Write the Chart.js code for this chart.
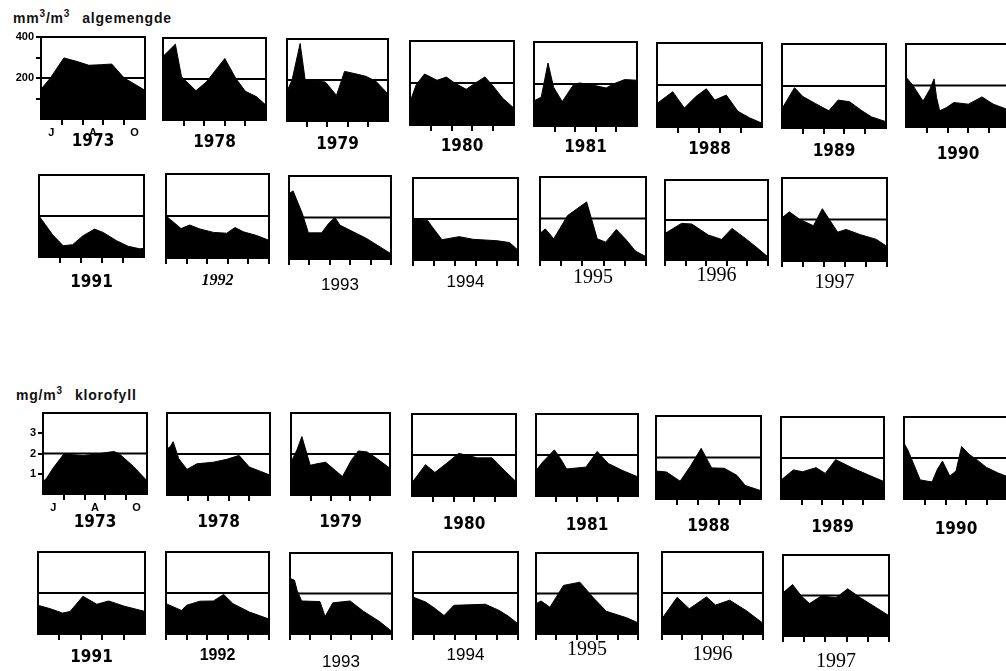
<!DOCTYPE html>
<html>
<head>
<meta charset="utf-8">
<script src="https://cdn.jsdelivr.net/npm/chart.js@4"></script>
<style>
body { margin: 0; background: #fff; width: 1006px; height: 671px; overflow: hidden; position: relative; }
canvas { position: absolute; }
.ttl { position: absolute; font: bold 14px 'Liberation Sans', Arial, sans-serif; letter-spacing: 0.8px; white-space: pre; color: #111; }
.ttl sup { font-size: 10px; }
.ttl span { margin-left: 12px; }
</style>
</head>
<body>
<div class="ttl" style="left:13px;top:8px">mm<sup>3</sup>/m<sup>3</sup><span>algemengde</span></div>
<div class="ttl" style="left:16px;top:385px">mg/m<sup>3</sup><span>klorofyll</span></div>
<script>
const years = ['1973', '1978', '1979', '1980', '1981', '1988', '1989', '1990',
               '1991', '1992', '1993', '1994', '1995', '1996', '1997'];
const monthLabels = ['J', 'A', 'O'];      // June, August, October
const algeRef = 200;
const algeMax = 400;
const algeTickLabels = [200, 400];
const klorRef = 2;
const klorMax = 4;
const klorTickLabels = [1, 2, 3];

// algemengde, mm3/m3 : [months after 1 June, value]
const alge1973 = [[0,145],[0.45,200],[1.1,298],[1.75,280],[2.3,262],[2.9,265],[3.4,268],[4.0,200],[5,140]];
const alge1978 = [[0,310],[0.6,370],[0.9,210],[1.6,143],[2.1,185],[3.0,300],[3.55,200],[4.0,140],[4.55,113],[5,72]];
const alge1979 = [[0,145],[0.25,200],[0.65,378],[0.9,200],[1.4,195],[1.9,190],[2.45,125],[2.85,242],[3.4,230],[3.9,218],[4.4,194],[5,132]];
const alge1980 = [[0,110],[0.3,192],[0.7,243],[1.3,213],[1.75,228],[2.15,200],[2.7,170],[3.15,200],[3.6,229],[4.0,185],[4.45,128],[5,80]];
const alge1981 = [[0,120],[0.35,137],[0.68,300],[0.95,185],[1.37,116],[1.9,194],[2.2,205],[2.9,194],[3.5,181],[3.9,202],[4.4,221],[5,218]];
const alge1988 = [[0,112],[0.75,168],[1.3,90],[1.85,145],[2.35,182],[2.75,128],[3.3,152],[3.85,75],[4.4,44],[5,18]];
const alge1989 = [[0,92],[0.6,192],[1.0,150],[1.6,117],[2.25,82],[2.7,133],[3.25,125],[3.8,85],[4.3,53],[5,30]];
const alge1990 = [[0,240],[0.3,205],[0.82,125],[1.15,182],[1.35,232],[1.47,142],[1.62,78],[1.95,94],[2.3,118],[3.0,110],[3.65,145],[4.2,110],[5,80]];
const alge1991 = [[0,200],[0.3,158],[0.65,108],[1.15,55],[1.6,60],[2.1,104],[2.65,136],[3.05,120],[3.7,79],[4.25,52],[4.8,40],[5,42]];
const alge1992 = [[0,200],[0.35,172],[0.73,140],[1.15,157],[1.65,138],[2.3,122],[2.95,118],[3.35,145],[3.75,125],[4.4,107],[5,84]];
const alge1993 = [[0,315],[0.2,328],[0.65,220],[0.95,126],[1.6,126],[1.95,172],[2.25,200],[2.5,163],[3.15,131],[3.8,99],[4.5,56],[5,25]];
const alge1994 = [[0,200],[0.7,192],[1.0,150],[1.38,99],[2.2,114],[2.85,101],[4.0,94],[4.6,85],[5,48]];
const alge1995 = [[0,128],[0.25,150],[0.65,102],[1.3,214],[2.2,280],[2.7,102],[3.1,86],[3.6,147],[4.05,99],[4.5,43],[5,16]];
const alge1996 = [[0,133],[0.8,183],[1.3,180],[2.1,125],[2.75,103],[3.25,158],[3.9,108],[4.45,63],[5,15]];
const alge1997 = [[0,208],[0.35,237],[0.85,200],[1.5,170],[1.92,252],[2.65,139],[3.05,152],[3.7,128],[4.5,104],[5,70]];

// klorofyll, mg/m3
const klor1973 = [[0,0.62],[0.15,0.75],[0.5,1.3],[1.0,1.97],[1.95,1.9],[2.75,2.0],[3.4,2.1],[3.65,2.0],[4.35,1.36],[5,0.65]];
const klor1978 = [[0,2.25],[0.15,2.35],[0.3,2.6],[0.57,1.77],[0.97,1.25],[1.45,1.52],[2.25,1.6],[2.9,1.74],[3.5,1.93],[4.0,1.36],[4.55,1.15],[5,0.97]];
const klor1979 = [[0,1.6],[0.3,2.2],[0.55,2.85],[0.97,1.45],[1.3,1.52],[1.75,1.6],[2.6,0.9],[3.05,1.7],[3.4,2.15],[3.85,2.1],[4.35,1.77],[5,1.3]];
const klor1980 = [[0,0.65],[0.65,1.53],[1.1,1.15],[1.65,1.58],[2.25,2.08],[3.15,1.86],[3.85,1.86],[4.45,1.24],[5,0.7]];
const klor1981 = [[0,1.24],[0.33,1.66],[0.9,2.25],[1.2,1.83],[1.5,1.32],[2.45,1.41],[3.0,2.17],[3.55,1.58],[4.25,1.24],[5,0.93]];
const klor1988 = [[0,1.35],[0.5,1.3],[1.15,0.86],[1.65,1.6],[2.15,2.44],[2.65,1.5],[3.25,1.48],[3.85,1.14],[4.25,0.65],[5,0.4]];
const klor1989 = [[0,0.92],[0.6,1.42],[1.05,1.33],[1.7,1.53],[2.15,1.25],[2.65,1.92],[3.5,1.5],[4.25,1.17],[5,0.85]];
const klor1990 = [[0,2.72],[0.18,2.4],[0.78,0.93],[1.35,0.83],[1.6,1.44],[1.85,1.85],[2.2,1.12],[2.5,1.36],[2.77,2.56],[3.15,2.16],[3.5,1.92],[3.95,1.55],[4.5,1.28],[5,1.08]];
const klor1991 = [[0,1.4],[0.55,1.24],[1.15,1.02],[1.5,1.1],[2.1,1.84],[2.75,1.45],[3.3,1.61],[4.05,1.35],[5,1.1]];
const klor1992 = [[0,1.48],[0.75,1.15],[1.0,1.4],[1.65,1.6],[2.3,1.61],[2.8,1.93],[3.25,1.48],[4.05,1.07],[5,0.73]];
const klor1993 = [[0,2.75],[0.22,2.65],[0.35,2.15],[0.57,1.63],[1.47,1.6],[1.72,0.86],[2.1,1.54],[2.95,1.63],[3.6,1.12],[4.4,0.61],[5,0.12]];
const klor1994 = [[0,1.8],[0.6,1.56],[1.0,1.28],[1.48,0.9],[1.95,1.4],[3.45,1.45],[4.1,1.15],[4.55,0.86],[5,0.5]];
const klor1995 = [[0,1.5],[0.25,1.63],[0.68,1.32],[1.35,2.4],[2.15,2.56],[2.8,1.8],[3.45,1.12],[4.45,0.8],[5,0.55]];
const klor1996 = [[0,0.75],[0.75,1.79],[1.35,1.23],[2.2,1.81],[2.65,1.41],[3.35,1.65],[4.2,1.12],[5,0.52]];
const klor1997 = [[0,2.13],[0.45,2.54],[0.87,1.97],[1.25,1.6],[1.8,1.97],[2.5,1.89],[3.05,2.33],[3.65,1.89],[4.4,1.4],[5,1.0]];

const algeSeries = [alge1973, alge1978, alge1979, alge1980, alge1981, alge1988, alge1989, alge1990,
                    alge1991, alge1992, alge1993, alge1994, alge1995, alge1996, alge1997];
const klorSeries = [klor1973, klor1978, klor1979, klor1980, klor1981, klor1988, klor1989, klor1990,
                    klor1991, klor1992, klor1993, klor1994, klor1995, klor1996, klor1997];

// layout: plot box left, top, width, height, year label offset below box, label font, end ticks
const algeBoxes = [
  [41, 37, 104, 82, 23, 'cond', false], [163, 38, 103, 82, 23, 'cond', false],
  [287, 39, 101, 82, 24, 'cond', false], [410, 41, 104, 84, 22, 'cond', false],
  [534, 42, 103, 84, 22, 'cond', false], [657, 43, 105, 84, 23, 'cond', false],
  [782, 44, 104, 84, 24, 'cond', false], [906, 44, 104, 83, 28, 'cond', false],
  [39, 175, 105, 82, 26, 'cond', false], [166, 174, 103, 84, 22, 'hand', true],
  [289, 176, 102, 83, 27, 'sans', true], [413, 178, 105, 82, 23, 'sans', true],
  [540, 177, 106, 83, 18, 'serif', true], [665, 180, 103, 80, 16, 'serif', true],
  [782, 178, 105, 83, 22, 'serif', true]
];
const klorBoxes = [
  [43, 413, 104, 81, 29, 'cond', false], [167, 413, 103, 82, 28, 'cond', false],
  [291, 413, 99, 82, 28, 'cond', false], [412, 414, 104, 82, 29, 'cond', false],
  [536, 414, 102, 82, 30, 'cond', false], [656, 416, 105, 83, 28, 'cond', false],
  [781, 417, 103, 82, 29, 'cond', false], [904, 417, 104, 82, 31, 'cond', false],
  [38, 552, 107, 82, 24, 'cond', false], [166, 552, 103, 82, 21, 'bold', true],
  [290, 553, 102, 81, 29, 'sans', true], [413, 552, 105, 82, 22, 'sans', true],
  [536, 553, 102, 81, 16, 'serif', true], [662, 552, 101, 82, 21, 'serif', true],
  [783, 555, 106, 81, 26, 'serif', true]
];

const fonts = {
  cond: {family: "'DejaVu Sans', sans-serif", weight: 'condensed bold', size: 17},
  hand: {family: "'Liberation Serif', serif", weight: 'bold', style: 'italic', size: 16},
  bold: {family: "'Liberation Sans', Arial, sans-serif", weight: 'bold', size: 16},
  sans: {family: "'Liberation Sans', Arial, sans-serif", weight: 'normal', size: 17},
  serif: {family: "'Liberation Serif', 'Times New Roman', serif", weight: 'normal', size: 20}
};
const smallFont = {family: "'Liberation Sans', Arial, sans-serif", weight: 'bold', size: 11};

const boxPlugin = {
  id: 'box',
  afterDraw(chart) {
    const {ctx, chartArea: a} = chart;
    ctx.save();
    ctx.strokeStyle = '#000';
    ctx.lineWidth = 2;
    ctx.strokeRect(a.left, a.top, a.right - a.left, a.bottom - a.top);
    ctx.restore();
  }
};

const monthTicks = [0, 0.5, 1, 1.5, 2, 2.5, 3, 3.5, 4, 4.5, 5];
const monthAt = {0.5: monthLabels[0], 2.5: monthLabels[1], 4.5: monthLabels[2]};

function noPad(s) {
  s.paddingTop = 0; s.paddingBottom = 0; s.paddingLeft = 0; s.paddingRight = 0;
}

function makePanel(points, box, i, ref, yMax, yLabels) {
  const [bx, by, bw, bh, dy, fk, ends] = box;
  const first = i === 0;
  const yw = first ? 36 : 0;
  const f = fonts[fk];
  const axisH = Math.round(dy + f.size * 0.6);
  const padL = 2, padR = 3;
  const padT = first ? 8 : 2;
  const step = yMax / 4;

  const cv = document.createElement('canvas');
  cv.width = bw + yw + padL + padR;
  cv.height = bh + padT + axisH;
  cv.style.left = (bx - yw - padL) + 'px';
  cv.style.top = (by - padT) + 'px';
  document.body.appendChild(cv);

  new Chart(cv, {
    type: 'line',
    data: {
      datasets: [
        {
          data: points.map(([x, y]) => ({x, y})),
          fill: 'origin',
          backgroundColor: '#000',
          borderColor: '#000',
          borderWidth: 1,
          pointRadius: 0,
          tension: 0
        },
        {
          data: [{x: 0, y: ref}, {x: 5, y: ref}],
          fill: false,
          borderColor: '#000',
          borderWidth: 2,
          pointRadius: 0
        }
      ]
    },
    options: {
      responsive: false,
      animation: false,
      devicePixelRatio: 1,
      events: [],
      layout: {padding: {left: padL, top: padT, right: padR, bottom: 0}},
      plugins: {legend: {display: false}, tooltip: {enabled: false}},
      scales: {
        x: {
          type: 'linear',
          min: 0,
          max: 5,
          afterBuildTicks: s => { s.ticks = monthTicks.map(v => ({value: v})); },
          afterFit: s => { s.height = axisH; noPad(s); },
          border: {display: false},
          grid: {
            drawOnChartArea: false,
            drawTicks: true,
            tickLength: 6,
            lineWidth: 2,
            color: c => {
              const v = c.tick ? c.tick.value : -1;
              if (v % 1 !== 0) return 'rgba(0,0,0,0)';
              if ((v === 0 || v === 5) && !ends) return 'rgba(0,0,0,0)';
              return '#000';
            }
          },
          ticks: {
            display: first,
            autoSkip: false,
            maxRotation: 0,
            minRotation: 0,
            padding: 1,
            color: '#000',
            font: smallFont,
            callback: v => monthAt[v] || ''
          },
          title: {
            display: true,
            text: years[i],
            color: '#000',
            font: f,
            padding: {top: 0, bottom: 0}
          }
        },
        y: {
          display: first,
          min: 0,
          max: yMax,
          afterBuildTicks: s => { s.ticks = [0, 1, 2, 3, 4].map(k => ({value: k * step})); },
          afterFit: s => { s.width = yw; noPad(s); },
          border: {display: false},
          grid: {
            drawOnChartArea: false,
            tickLength: 5,
            lineWidth: 2,
            color: c => {
              const v = c.tick ? c.tick.value : 0;
              if (v === 0) return 'rgba(0,0,0,0)';
              if (yMax < 10 && v === yMax) return 'rgba(0,0,0,0)';
              return '#000';
            }
          },
          ticks: {
            padding: 2,
            color: '#000',
            font: smallFont,
            callback: v => yLabels.includes(v) ? String(v) : ''
          }
        }
      }
    },
    plugins: [boxPlugin]
  });
}

algeSeries.forEach((s, i) => makePanel(s, algeBoxes[i], i, algeRef, algeMax, algeTickLabels));
klorSeries.forEach((s, i) => makePanel(s, klorBoxes[i], i, klorRef, klorMax, klorTickLabels));
</script>
</body>
</html>
